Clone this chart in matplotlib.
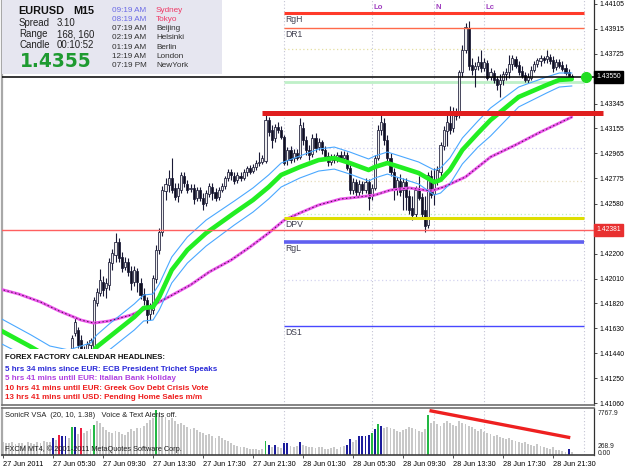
import matplotlib
matplotlib.use("Agg")
import matplotlib.pyplot as plt
from matplotlib.patches import Rectangle
from matplotlib.transforms import blended_transform_factory

plt.rcParams['font.family'] = ['Liberation Sans', 'DejaVu Sans']

# ---------------- data ----------------
symbol = "EURUSD"
timeframe = "M15"
first_bar = 22
opens = [
    1.41465, 1.41594, 1.41617, 1.41541, 1.41465, 1.41450, 1.41503, 1.41488, 1.41823, 1.41899,
    1.41984, 1.41938, 1.41961, 1.42128, 1.42190, 1.42289, 1.42174, 1.42098, 1.42136, 1.42067,
    1.41984, 1.42067, 1.41976, 1.41892, 1.41846, 1.41739, 1.41770, 1.42006, 1.42228, 1.42365,
    1.42677, 1.42724, 1.42777, 1.42701, 1.42639, 1.42685, 1.42792, 1.42731, 1.42693, 1.42701,
    1.42624, 1.42685, 1.42624, 1.42586, 1.42654, 1.42708, 1.42670, 1.42632, 1.42685, 1.42716,
    1.42777, 1.42823, 1.42792, 1.42762, 1.42792, 1.42777, 1.42823, 1.42853, 1.42830, 1.42861,
    1.42891, 1.42899, 1.42906, 1.43219, 1.43143, 1.43082, 1.43166, 1.43143, 1.43090, 1.42914,
    1.42991, 1.42929, 1.42968, 1.42937, 1.43158, 1.43067, 1.42991, 1.42960, 1.43082, 1.43013,
    1.43052, 1.42991, 1.42945, 1.42899, 1.42937, 1.42914, 1.42953, 1.42929, 1.42953, 1.42853,
    1.42685, 1.42746, 1.42670, 1.42731, 1.42685, 1.42746, 1.42639, 1.42701, 1.42929, 1.43143,
    1.43197, 1.43067, 1.42929, 1.42823, 1.42701, 1.42754, 1.42685, 1.42746, 1.42639, 1.42548,
    1.42502, 1.42685, 1.42632, 1.42533, 1.42418, 1.42792, 1.42655, 1.42762, 1.42823, 1.43021,
    1.43135, 1.43197, 1.43158, 1.43273, 1.43258, 1.43586, 1.43754, 1.43921, 1.43639, 1.43608,
    1.43631, 1.43662, 1.43616, 1.43654, 1.43548, 1.43578, 1.43532, 1.43494, 1.43525, 1.43570,
    1.43586, 1.43647, 1.43685, 1.43639, 1.43593, 1.43563, 1.43525, 1.43540, 1.43601, 1.43647,
    1.43670, 1.43692, 1.43685, 1.43700, 1.43677, 1.43624, 1.43662, 1.43639, 1.43616, 1.43586,
    1.43555]
highs = [
    1.41579, 1.41709, 1.41640, 1.41579, 1.41495, 1.41533, 1.41556, 1.41869, 1.41938, 1.42082,
    1.42029, 1.42014, 1.42167, 1.42235, 1.42357, 1.42319, 1.42213, 1.42174, 1.42167, 1.42105,
    1.42105, 1.42090, 1.42014, 1.41938, 1.41869, 1.41823, 1.42037, 1.42266, 1.42395, 1.42716,
    1.42777, 1.42838, 1.42929, 1.42739, 1.42739, 1.42823, 1.42823, 1.42762, 1.42731, 1.42731,
    1.42708, 1.42708, 1.42662, 1.42685, 1.42739, 1.42739, 1.42701, 1.42708, 1.42739, 1.42792,
    1.42846, 1.42846, 1.42823, 1.42823, 1.42823, 1.42846, 1.42868, 1.42876, 1.42884, 1.42914,
    1.42975, 1.42953, 1.43265, 1.43242, 1.43181, 1.43189, 1.43204, 1.43174, 1.43105, 1.43013,
    1.43021, 1.42998, 1.42998, 1.43235, 1.43204, 1.43097, 1.43029, 1.43113, 1.43120, 1.43082,
    1.43067, 1.43021, 1.42975, 1.42960, 1.42960, 1.42975, 1.42983, 1.42983, 1.42975, 1.42876,
    1.42777, 1.42769, 1.42762, 1.42754, 1.42777, 1.42769, 1.42731, 1.42953, 1.43181, 1.43273,
    1.43235, 1.43105, 1.42968, 1.42853, 1.42785, 1.42807, 1.42777, 1.42777, 1.42685, 1.42639,
    1.42716, 1.42792, 1.42662, 1.42639, 1.42823, 1.42838, 1.42853, 1.42868, 1.43052, 1.43174,
    1.43280, 1.43326, 1.43319, 1.43311, 1.43601, 1.43792, 1.43959, 1.43975, 1.43692, 1.43662,
    1.43708, 1.43754, 1.43692, 1.43677, 1.43616, 1.43601, 1.43555, 1.43570, 1.43593, 1.43616,
    1.43715, 1.43715, 1.43708, 1.43670, 1.43631, 1.43586, 1.43578, 1.43631, 1.43670, 1.43692,
    1.43715, 1.43708, 1.43754, 1.43723, 1.43708, 1.43685, 1.43685, 1.43670, 1.43647, 1.43608,
    1.43570]
lows = [
    1.41427, 1.41571, 1.41480, 1.41419, 1.41388, 1.41419, 1.41465, 1.41465, 1.41800, 1.41876,
    1.41876, 1.41861, 1.41922, 1.42075, 1.42136, 1.42136, 1.42060, 1.42075, 1.42029, 1.41922,
    1.41953, 1.41907, 1.41853, 1.41808, 1.41670, 1.41693, 1.41739, 1.41976, 1.42197, 1.42334,
    1.42609, 1.42670, 1.42662, 1.42609, 1.42594, 1.42662, 1.42708, 1.42662, 1.42670, 1.42578,
    1.42601, 1.42601, 1.42533, 1.42563, 1.42632, 1.42609, 1.42601, 1.42609, 1.42670, 1.42693,
    1.42754, 1.42762, 1.42731, 1.42739, 1.42754, 1.42762, 1.42792, 1.42807, 1.42815, 1.42838,
    1.42868, 1.42884, 1.42891, 1.43097, 1.43006, 1.43052, 1.43120, 1.43074, 1.42876, 1.42876,
    1.42891, 1.42899, 1.42914, 1.42922, 1.43029, 1.42953, 1.42914, 1.42937, 1.42975, 1.42991,
    1.42960, 1.42914, 1.42868, 1.42876, 1.42891, 1.42899, 1.42914, 1.42899, 1.42838, 1.42655,
    1.42655, 1.42632, 1.42639, 1.42655, 1.42662, 1.42533, 1.42609, 1.42685, 1.42914, 1.43105,
    1.43029, 1.42899, 1.42792, 1.42609, 1.42647, 1.42639, 1.42533, 1.42533, 1.42502, 1.42456,
    1.42472, 1.42609, 1.42479, 1.42365, 1.42395, 1.42624, 1.42571, 1.42724, 1.42785, 1.42991,
    1.43021, 1.43113, 1.43128, 1.43219, 1.43235, 1.43548, 1.43731, 1.43601, 1.43563, 1.43471,
    1.43601, 1.43586, 1.43593, 1.43525, 1.43525, 1.43502, 1.43448, 1.43395, 1.43487, 1.43525,
    1.43540, 1.43601, 1.43616, 1.43563, 1.43540, 1.43510, 1.43502, 1.43525, 1.43586, 1.43624,
    1.43631, 1.43654, 1.43654, 1.43647, 1.43586, 1.43601, 1.43616, 1.43593, 1.43563, 1.43532,
    1.43532]
closes = [
    1.41556, 1.41678, 1.41503, 1.41450, 1.41427, 1.41510, 1.41541, 1.41846, 1.41907, 1.41999,
    1.41922, 1.41976, 1.42136, 1.42205, 1.42289, 1.42167, 1.42090, 1.42136, 1.42060, 1.41976,
    1.42075, 1.41984, 1.41884, 1.41846, 1.41732, 1.41785, 1.42014, 1.42228, 1.42365, 1.42685,
    1.42731, 1.42777, 1.42685, 1.42632, 1.42701, 1.42800, 1.42739, 1.42685, 1.42701, 1.42617,
    1.42685, 1.42624, 1.42578, 1.42662, 1.42716, 1.42662, 1.42624, 1.42685, 1.42716, 1.42777,
    1.42823, 1.42800, 1.42754, 1.42800, 1.42777, 1.42823, 1.42853, 1.42823, 1.42861, 1.42891,
    1.42899, 1.42929, 1.43219, 1.43128, 1.43067, 1.43166, 1.43143, 1.43090, 1.42891, 1.42991,
    1.42914, 1.42968, 1.42929, 1.43181, 1.43067, 1.42991, 1.42953, 1.43082, 1.43006, 1.43052,
    1.42991, 1.42945, 1.42899, 1.42937, 1.42914, 1.42953, 1.42929, 1.42953, 1.42853, 1.42685,
    1.42746, 1.42670, 1.42731, 1.42685, 1.42746, 1.42624, 1.42701, 1.42929, 1.43143, 1.43204,
    1.43067, 1.42929, 1.42823, 1.42685, 1.42762, 1.42670, 1.42746, 1.42632, 1.42533, 1.42495,
    1.42685, 1.42624, 1.42502, 1.42411, 1.42800, 1.42647, 1.42762, 1.42838, 1.43029, 1.43143,
    1.43204, 1.43143, 1.43273, 1.43250, 1.43586, 1.43754, 1.43929, 1.43631, 1.43601, 1.43631,
    1.43662, 1.43616, 1.43662, 1.43540, 1.43586, 1.43525, 1.43487, 1.43525, 1.43570, 1.43586,
    1.43647, 1.43692, 1.43631, 1.43586, 1.43555, 1.43525, 1.43548, 1.43601, 1.43647, 1.43677,
    1.43692, 1.43677, 1.43708, 1.43670, 1.43616, 1.43662, 1.43631, 1.43608, 1.43578, 1.43555,
    1.43550]

# SonicR dragon (EMA of close / high / low) and trend EMA89, read at sample bars
ma_bars = [-1, 9, 15, 21, 28, 30, 34, 42, 45, 48, 50, 54, 59, 65, 74, 80, 85, 89, 95, 101,
           106, 111, 117, 119, 123, 127, 133, 138, 140, 143, 147, 152, 156, 165, 174, 178, 182]
ema_close = [1.41617, 1.41488, 1.41404, 1.41373, 1.41427, 1.41488, 1.41564, 1.41716, 1.41785, 1.41793,
             1.41869, 1.42075, 1.42228, 1.42357, 1.42510, 1.42609, 1.42708, 1.42800, 1.42861, 1.42914,
             1.42929, 1.42891, 1.42838, 1.42861, 1.42891, 1.42861, 1.42815, 1.42746, 1.42762, 1.42838,
             1.42991, 1.43120, 1.43219, 1.43395, 1.43487, 1.43525, 1.43532]
ema_high = [1.41709, 1.41579, 1.41495, 1.41465, 1.41518, 1.41579, 1.41663, 1.41816, 1.41884, 1.41892,
            1.41968, 1.42174, 1.42327, 1.42456, 1.42601, 1.42701, 1.42800, 1.42891, 1.42945, 1.42998,
            1.43013, 1.42975, 1.42922, 1.42945, 1.42975, 1.42945, 1.42899, 1.42838, 1.42853, 1.42929,
            1.43082, 1.43212, 1.43311, 1.43471, 1.43548, 1.43578, 1.43578]
ema_low = [1.41518, 1.41396, 1.41312, 1.41281, 1.41335, 1.41396, 1.41465, 1.41617, 1.41686, 1.41693,
           1.41770, 1.41976, 1.42128, 1.42258, 1.42418, 1.42517, 1.42617, 1.42708, 1.42777, 1.42830,
           1.42845, 1.42807, 1.42754, 1.42777, 1.42807, 1.42777, 1.42731, 1.42647, 1.42662, 1.42731,
           1.42884, 1.43013, 1.43097, 1.43319, 1.43426, 1.43471, 1.43479]
ema89_bars = [-1, 5, 12, 18, 25, 29, 34, 41, 47, 53, 60, 66, 73, 79, 85, 90, 95, 101, 108, 114,
              119, 124, 130, 137, 141, 148, 156, 164, 172, 182]
ema89 = [1.41930, 1.41892, 1.41831, 1.41762, 1.41693, 1.41670, 1.41686, 1.41732, 1.41793, 1.41869,
         1.41961, 1.42060, 1.42151, 1.42250, 1.42357, 1.42456, 1.42510, 1.42571, 1.42617, 1.42632,
         1.42647, 1.42685, 1.42701, 1.42678, 1.42708, 1.42785, 1.42937, 1.43029, 1.43128, 1.43242]

# volume (bars 0..182) and VSA colouring
vol = [
    2300, 2100, 2000, 2200, 1900, 2100, 2000, 1800, 2200, 2000,
    1900, 2300, 2100, 2400, 2200, 2300, 2900, 2500, 3500, 3300,
    3300, 3000, 4900, 4900, 3600, 4600, 3800, 4200, 4500, 5200,
    5800, 5500, 4800, 4300, 3900, 3800, 4200, 4000, 3700, 3500,
    3900, 4400, 4100, 4600, 4700, 5000, 5500, 6000, 6400, 7767.9,
    7000, 6800, 6500, 6000, 6300, 5800, 5400, 5600, 5100, 4800,
    4500, 4700, 4300, 4000, 3800, 3500, 3700, 3300, 3000, 3200,
    2900, 2600, 2400, 2100, 1800, 1600, 1400, 1300, 1200, 1100,
    1000, 1100, 900, 1000, 2400, 1700, 1300, 1700, 1400, 1200,
    2100, 2100, 1500, 1300, 1600, 2300, 1800, 1500, 1400, 1300,
    1200, 1400, 1300, 1100, 1000, 1200, 1300, 1100, 1400, 1500,
    1800, 2700, 2200, 2600, 3200, 3200, 3300, 3500, 3800, 4400,
    5400, 5000, 4600, 4900, 4700, 4500, 4200, 4000, 4300, 4500,
    4800, 4600, 4400, 4200, 3900, 4400, 6850, 5600, 5900, 5300,
    5000, 5500, 5800, 5600, 5200, 5000, 5900, 5600, 5300, 5000,
    4800, 4400, 4200, 4500, 4000, 3800, 3600, 3300, 3500, 3100,
    2900, 2700, 3000, 2600, 2400, 2200, 2000, 2300, 1900, 1700,
    1600, 1900, 1500, 1300, 1200, 1000, 1300, 900, 800, 700,
    600, 1100, 500]
vsa_blue = [16, 19, 20, 23, 85, 87, 90, 91, 95, 110, 111, 114, 115, 116, 117, 119, 121, 181]
vsa_red = [18, 25]
vsa_green = [22, 29, 49, 84, 118, 120, 136]
vsa_trend_bars = [137, 181]
vsa_trend_vals = [7600, 3040]
vol_max_label = "7767.9"
vol_min_label = "268.9"

# chart objects
level_names = ["RgH", "DR1", "DPV", "RgL", "DS1"]
level_values = [1.44036, 1.43921, 1.42472, 1.42289, 1.41648]
minor_levels = [1.43761, 1.43510, 1.43006, 1.42754, 1.42502, 1.41999]
resistance_level = 1.43273
resistance_start_bar = 83
day_start_bar = 90
day_end_bar = 186
session_bars = [90, 118, 138, 154, 186]
session_names = ["Lo", "N", "Lc"]
session_name_bars = [118, 138, 154]
prev_close_level = 1.42381
bid = 1.43550

price_ticks = [1.44105, 1.43915, 1.43725, 1.43345, 1.43155, 1.42965, 1.42775, 1.42580,
               1.42200, 1.42010, 1.41820, 1.41630, 1.41440, 1.41250, 1.41060]
time_tick_bars = [0, 16, 32, 48, 64, 80, 96, 112, 128, 144, 160, 176]
time_tick_labels = ["27 Jun 2011", "27 Jun 05:30", "27 Jun 09:30", "27 Jun 13:30",
                    "27 Jun 17:30", "27 Jun 21:30", "28 Jun 01:30", "28 Jun 05:30",
                    "28 Jun 09:30", "28 Jun 13:30", "28 Jun 17:30", "28 Jun 21:30"]

info_rows = [("Spread", "3.10"), ("Range", "168, 160"), ("Candle", "00:10:52")]
clock_times = ["09:19 AM", "08:19 AM", "07:19 AM", "02:19 AM", "01:19 AM", "12:19 AM", "07:19 PM"]
clock_cities = ["Sydney", "Tokyo", "Beijing", "Helsinki", "Berlin", "London", "NewYork"]
headlines = ["5 hrs 34 mins since EUR: ECB President Trichet Speaks",
             "5 hrs 41 mins until EUR: Italian Bank Holiday",
             "10 hrs 41 mins until EUR: Greek Gov Debt Crisis Vote",
             "13 hrs 41 mins until USD: Pending Home Sales m/m"]

assert len(opens) == len(highs) == len(lows) == len(closes)
assert len(ma_bars) == len(ema_close) == len(ema_high) == len(ema_low)
assert len(ema89_bars) == len(ema89)

# ---------------- figure ----------------
W, H, DPI = 625, 469, 100
fig = plt.figure(figsize=(W / DPI, H / DPI), dpi=DPI)
fig.patch.set_facecolor("white")


def fx(px):
    return px / W


def fy(py):
    return 1 - py / H


L, R, T, B = 2, 594, 0, 405
VT, VB = 408, 455
ax = fig.add_axes([fx(L), fy(B), (R - L) / W, (B - T) / H])
axv = fig.add_axes([fx(L), fy(VB), (R - L) / W, (VB - VT) / H])

x0 = (L - 3) / 3.125
x1 = (R - 3) / 3.125
ax.set_xlim(x0, x1)
axv.set_xlim(x0, x1)
ax.set_ylim(1.41045, 1.44135)
axv.set_ylim(0, 8100)

for a in (ax, axv):
    a.set_facecolor("white")
    a.spines["top"].set_visible(False)
    a.spines["left"].set_color("#a8a8a8")
    a.spines["left"].set_linewidth(1.6)
    a.spines["right"].set_color("#303030")
    a.spines["right"].set_linewidth(0.9)
    a.spines["bottom"].set_color("#707070")
    a.spines["bottom"].set_linewidth(1.2)
axv.spines["top"].set_visible(True)
axv.spines["top"].set_color("#707070")
axv.spines["top"].set_linewidth(1.2)
axv.spines["bottom"].set_color("#404040")

# session separators
for b in session_bars:
    ax.axvline(b, color="#c4c4d4", lw=0.8, ls=(0, (1, 2)), zorder=1)
    axv.axvline(b, color="#c4c4d4", lw=0.8, ls=(0, (1, 2)), zorder=1)

# minor pivot levels
minor_styles = [("#e4dfa0", (0, (1, 2)), 0.9), ("#bff0c8", "-", 2.0), ("#cfcff0", (0, (1, 2)), 0.9),
                ("#e6dcbc", (0, (1, 2)), 0.9), ("#bdefbd", (0, (1, 2)), 0.9), ("#d4d4f0", (0, (1, 2)), 0.9)]
for lv, (c, ls, lw) in zip(minor_levels, minor_styles):
    ax.hlines(lv, day_start_bar, day_end_bar, colors=c, linestyles=ls, lw=lw, zorder=1.5)

# candles
wick = "#1a1a36"
for k, (o, h, l, c) in enumerate(zip(opens, highs, lows, closes)):
    i = first_bar + k
    ax.vlines(i, l, h, color=wick, lw=0.8, zorder=3)
    bot = min(o, c)
    hgt = max(abs(c - o), 0.00003)
    face = "#eeeeee" if c >= o else "#101020"
    ax.add_patch(Rectangle((i - 0.33, bot), 0.66, hgt, facecolor=face, edgecolor=wick,
                           lw=0.55, zorder=3.5))

# moving averages
ax.plot(ema89_bars, ema89, color="#ee55ee", lw=2.1, zorder=5, solid_capstyle="round")
ax.plot(ema89_bars, ema89, color="#402040", lw=0.7, ls=(0, (1.5, 2.5)), zorder=5.1)
ax.plot(ma_bars, ema_high, color="#4aa8ff", lw=0.8, zorder=5)
ax.plot(ma_bars, ema_low, color="#4aa8ff", lw=0.8, zorder=5)
ax.plot(ma_bars, ema_close, color="#22ee22", lw=3.3, zorder=5.2, solid_capstyle="round")

# pivot levels
level_styles = [("#ff3a2a", 2.2), ("#ff6a4a", 1.0), ("#dede00", 2.2), ("#6060f0", 2.6), ("#4848ff", 1.0)]
for name, lv, (c, lw) in zip(level_names, level_values, level_styles):
    ax.hlines(lv, day_start_bar, day_end_bar, colors=c, lw=lw, zorder=6)
    ax.text(day_start_bar + 0.4, lv - 0.00012, name, fontsize=6.2, color="#404050",
            ha="left", va="top", zorder=7)

# thick resistance line
ax.plot([resistance_start_bar, 192], [resistance_level, resistance_level], color="#e01e1e",
        lw=3.6, zorder=6.5, clip_on=False, solid_capstyle="butt")

# previous close & bid lines
ax.axhline(prev_close_level, color="#ff6060", lw=1.0, zorder=6)
ax.axhline(bid, color="#000000", lw=1.1, zorder=6.6)

# session names
for nm, b in zip(session_names, session_name_bars):
    ax.text(b + 0.4, 1.44135 - 0.00060, nm, fontsize=5.6, color="#a040c0", fontweight="bold",
            ha="left", va="center", zorder=7)

# current price dot
ax.plot([186.6], [closes[-1]], "o", ms=7, color="#22dd22", mec="#22dd22", zorder=8, clip_on=False)

# price axis
ax.yaxis.tick_right()
ax.set_yticks(price_ticks)
ax.set_yticklabels([f"{v:.5f}" for v in price_ticks])
ax.tick_params(axis="y", labelsize=4.9, pad=1.5, length=2.5, width=0.6, color="#303030")
ax.set_xticks([])
tr = blended_transform_factory(ax.transAxes, ax.transData)
ax.text(1.004, bid, f"{bid:.5f}", transform=tr, ha="left", va="center", fontsize=4.9,
        color="white", clip_on=False, zorder=9,
        bbox=dict(boxstyle="square,pad=0.35", fc="black", ec="black"))
ax.text(1.004, prev_close_level, f"{prev_close_level:.5f}", transform=tr, ha="left", va="center",
        fontsize=4.9, color="white", clip_on=False, zorder=9,
        bbox=dict(boxstyle="square,pad=0.35", fc="#e83030", ec="#e83030"))

# white headline background and info panel
ax.add_patch(Rectangle((fx(3), fy(404)), fx(232) - fx(3), fy(349) - fy(404),
                       transform=fig.transFigure, facecolor="white", edgecolor="none", zorder=9))
ax.add_patch(Rectangle((fx(2), fy(74)), fx(222) - fx(2), fy(0) - fy(74),
                       transform=fig.transFigure, facecolor="#e6e6f0", edgecolor="none", zorder=9))

# info panel text
fig.text(fx(18), fy(10.7), symbol, fontsize=7.8, fontweight="bold", color="#101010", va="center", zorder=10)
fig.text(fx(73), fy(10.7), timeframe, fontsize=7.8, fontweight="bold", color="#101010", va="center", zorder=10)
for j, (k, v) in enumerate(info_rows):
    yy = 23.3 + j * 10.9
    fig.text(fx(19), fy(yy), k, fontsize=6.9, color="#202020", va="center", zorder=10)
    fig.text(fx(57), fy(yy), v, fontsize=6.9, color="#202020", va="center", zorder=10)
fig.text(fx(20), fy(61.7), f"{bid:.4f}", fontsize=13.4, fontweight="bold", color="#1e9a30",
         va="center", family="DejaVu Sans", zorder=10)
for j, (t, c) in enumerate(zip(clock_times, clock_cities)):
    yy = 10 + j * 9.33
    tc = "#6a6ae6" if j < 2 else "#303030"
    cc = "#ee3a66" if j < 2 else "#303030"
    fig.text(fx(112), fy(yy), t, fontsize=5.9, color=tc, va="center", zorder=10)
    fig.text(fx(156), fy(yy), c, fontsize=5.9, color=cc, va="center", zorder=10)

# headlines
fig.text(fx(5), fy(357.3), "FOREX FACTORY CALENDAR HEADLINES:", fontsize=5.6, fontweight="bold",
         color="#101010", va="center", zorder=10)
hl_colors = ["#2a2ad8", "#b040e0", "#ee1c1c", "#ee1c1c"]
for j, (s, c) in enumerate(zip(headlines, hl_colors)):
    fig.text(fx(5), fy(369.3 + j * 9.5), s, fontsize=5.8, fontweight="bold", color=c,
             va="center", zorder=10)

# volume panel
vcols = []
for i in range(len(vol)):
    if i in vsa_blue:
        vcols.append("#1c1c9c")
    elif i in vsa_red:
        vcols.append("#ee2040")
    elif i in vsa_green:
        vcols.append("#22b844")
    else:
        vcols.append("#c8c8c8")
axv.bar(range(len(vol)), vol, width=0.62, color=vcols, linewidth=0, zorder=2)
axv.plot(vsa_trend_bars, vsa_trend_vals, color="#ee2020", lw=2.4, zorder=4)
axv.set_yticks([])
axv.set_xticks(time_tick_bars)
axv.set_xticklabels(time_tick_labels)
for lab in axv.get_xticklabels():
    lab.set_ha("left")
axv.tick_params(axis="x", labelsize=5.3, pad=1.5, length=2.5, width=0.6, color="#303030")
axv.text(0.005, 0.84, "SonicR VSA  (20, 10, 1.38)   Voice & Text Alerts off.", transform=axv.transAxes,
         fontsize=5.4, color="#202020", va="center", ha="left", zorder=5)
axv.text(0.005, 0.13, "FXCM MT4, \u00a9 2001-2011 MetaQuotes Software Corp.", transform=axv.transAxes,
         fontsize=5.3, color="#202020", va="center", ha="left", zorder=5)
fig.text(fx(598), fy(413), vol_max_label, fontsize=4.9, color="#202020", va="center")
fig.text(fx(598), fy(446), vol_min_label, fontsize=4.9, color="#202020", va="center")
fig.text(fx(598), fy(453), "0.00", fontsize=4.9, color="#202020", va="center")

fig.savefig("out.png", dpi=DPI)
